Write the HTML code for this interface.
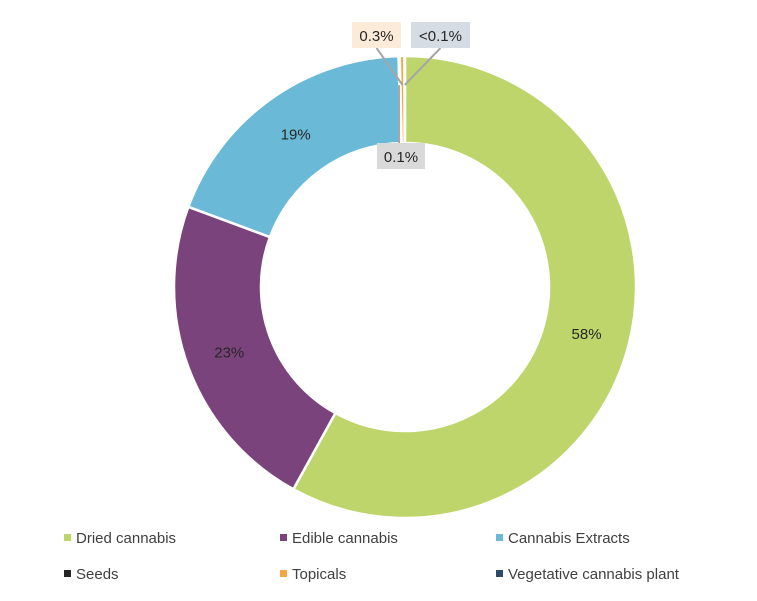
<!DOCTYPE html>
<html><head><meta charset="utf-8"><style>
body{margin:0;background:#fff;}
svg{display:block;font-family:"Liberation Sans",sans-serif;}
</style></head><body>
<svg id="chart" width="757" height="601">
<g id="slices"></g>
<g id="labels"></g>
<g id="legend"></g>
</svg>
<script>
const categories = ["Dried cannabis","Edible cannabis","Cannabis Extracts","Seeds","Topicals","Vegetative cannabis plant"];
const values = [58.0, 22.6, 18.9, 0.1, 0.3, 0.05];
const valueLabels = ["58%","23%","19%","0.1%","0.3%","<0.1%"];
const colors = ["#bdd56b","#7b437b","#6ab9d6","#262626","#f5a742","#2d4a66"];
const NS="http://www.w3.org/2000/svg";
const cx=405, cy=287, R=231, r=144;
const total=values.reduce((a,b)=>a+b,0);
function pt(a,rad){return [cx+rad*Math.sin(a), cy-rad*Math.cos(a)];}
const gS=document.getElementById('slices'), gL=document.getElementById('labels'), gG=document.getElementById('legend');
let acc=0; const mids=[];
values.forEach((v,i)=>{
  const a0=acc/total*2*Math.PI; acc+=v; const a1=acc/total*2*Math.PI;
  mids.push((a0+a1)/2);
  const large=(a1-a0)>Math.PI?1:0;
  const [x0,y0]=pt(a0,R),[x1,y1]=pt(a1,R),[x2,y2]=pt(a1,r),[x3,y3]=pt(a0,r);
  const p=document.createElementNS(NS,'path');
  p.setAttribute('d',`M${x0},${y0}A${R},${R} 0 ${large} 1 ${x1},${y1}L${x2},${y2}A${r},${r} 0 ${large} 0 ${x3},${y3}Z`);
  p.setAttribute('fill',colors[i]); p.setAttribute('stroke','#fff'); p.setAttribute('stroke-width', v<1?2.2:2.5);
  
  
  gS.appendChild(p);
});
function text(x,y,t,name){const e=document.createElementNS(NS,'text');e.setAttribute('x',x);e.setAttribute('y',y);e.setAttribute('text-anchor','middle');e.setAttribute('font-size','15');e.setAttribute('fill','#262626');e.textContent=t;


gL.appendChild(e);return e;}
[0,1,2].forEach(i=>{const [x,y]=pt(mids[i],(R+r)/2);text(x,y+5,valueLabels[i],'label-'+i);});
const callouts=[{i:3,bx:377,by:143,w:48,fill:"#d9d9d9"},{i:4,bx:352,by:22,w:49,fill:"#fdebd9"},{i:5,bx:411,by:22,w:59,fill:"#d6dce4"}];
callouts.forEach(c=>{
  const [sx,sy]=pt(mids[c.i],R-35);
  const ln=document.createElementNS(NS,'polyline');
  let pts;
  if(c.i===3){pts=`${sx-1},${sy-6} ${sx-1},${c.by}`;}
  else {pts=`${sx},${sy-6} ${c.bx+c.w/2},${c.by+26}`;}
  ln.setAttribute('points',pts);ln.setAttribute('fill','none');
  ln.setAttribute('stroke','#a6a6a6');ln.setAttribute('stroke-width','2');
  
  
  gL.appendChild(ln);
  const rc=document.createElementNS(NS,'rect');
  rc.setAttribute('x',c.bx);rc.setAttribute('y',c.by);rc.setAttribute('width',c.w);rc.setAttribute('height',26);rc.setAttribute('fill',c.fill);
  
  
  gL.appendChild(rc);
  text(c.bx+c.w/2,c.by+19,valueLabels[c.i],'callout-label-'+c.i);
});
categories.forEach((c,i)=>{
  const x=[64,280,496][i%3], y=[538,574][Math.floor(i/3)];
  const g=document.createElementNS(NS,'g');
  
  
  const s=document.createElementNS(NS,'rect');
  s.setAttribute('x',x);s.setAttribute('y',y-4);s.setAttribute('width',7);s.setAttribute('height',7);s.setAttribute('fill',colors[i]);
  const t=document.createElementNS(NS,'text');
  t.setAttribute('x',x+12);t.setAttribute('y',y+5);t.setAttribute('font-size','15');t.setAttribute('fill','#404040');t.textContent=c;
  g.appendChild(s);g.appendChild(t);gG.appendChild(g);
});
</script>
</body></html>
